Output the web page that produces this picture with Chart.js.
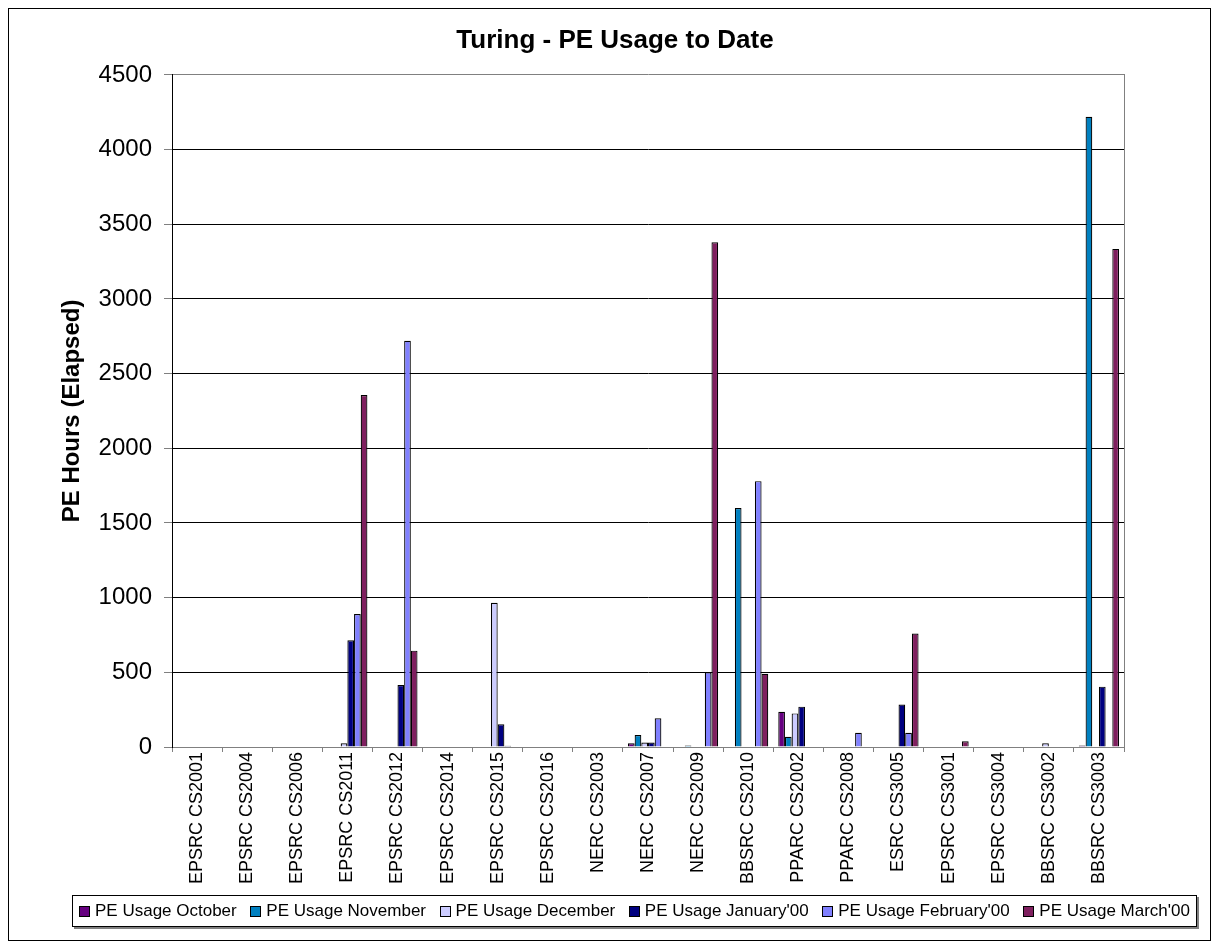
<!DOCTYPE html>
<html>
<head>
<meta charset="utf-8">
<title>Turing - PE Usage to Date</title>
<script src="https://cdn.jsdelivr.net/npm/chart.js@4.4.1/dist/chart.umd.min.js"></script>
<style>
  html, body { margin: 0; padding: 0; background: #fff; }
  #wrap { position: relative; width: 1218px; height: 947px; font-family: 'Liberation Sans', Arial, sans-serif; }
  #chart { position: absolute; left: 0; top: 0; }
  #frame { position: absolute; left: 8px; top: 8px; width: 1201px; height: 931px; border: 1px solid #000; pointer-events: none; }
  #legend { position: absolute; left: 72px; top: 895px; width: 1125px; height: 32px; box-sizing: border-box;
            border: 1px solid #000; box-shadow: 2px 2px 0 #808080; background: #fff;
            display: flex; align-items: center; justify-content: space-between; padding: 0 6px;
            font-size: 17px; color: #000; }
  .item { display: flex; align-items: center; white-space: nowrap; }
  .swatch { width: 9px; height: 9px; border: 1px solid #000; margin-right: 5px; }
</style>
</head>
<body>
<div id="wrap">
  <canvas id="chart" width="1218" height="947"></canvas>
  <div id="frame"></div>
  <div id="legend"></div>
</div>
<script>
// projects (x axis)
const categories = ['EPSRC CS2001', 'EPSRC CS2004', 'EPSRC CS2006', 'EPSRC CS2011', 'EPSRC CS2012',
  'EPSRC CS2014', 'EPSRC CS2015', 'EPSRC CS2016', 'NERC CS2003', 'NERC CS2007', 'NERC CS2009',
  'BBSRC CS2010', 'PPARC CS2002', 'PPARC CS2008', 'ESRC CS3005', 'EPSRC CS3001', 'EPSRC CS3004',
  'BBSRC CS3002', 'BBSRC CS3003']

const seriesNames = ['PE Usage October', 'PE Usage November', 'PE Usage December',
  "PE Usage January'00", "PE Usage February'00", "PE Usage March'00"]

// PE hours per project, one array per month
const octUsage = [0, 0, 0, 0, 0, 0, 0, 0, 0, 25, 0, 0, 236, 0, 0, 0, 0, 0, 10]
const novUsage = [0, 0, 0, 0, 0, 0, 0, 0, 0, 80, 10, 1600, 68, 0, 0, 0, 0, 0, 4220]
const decUsage = [0, 0, 0, 25, 0, 0, 965, 0, 0, 30, 0, 0, 225, 0, 0, 0, 0, 25, 0]
const janUsage = [0, 0, 0, 715, 415, 0, 152, 0, 0, 30, 0, 0, 270, 0, 285, 0, 0, 0, 404]
const febUsage = [0, 0, 0, 890, 2720, 0, 8, 0, 0, 192, 500, 1780, 0, 95, 95, 0, 0, 0, 0]
const marUsage = [0, 0, 0, 2357, 645, 0, 0, 0, 0, 0, 3380, 490, 0, 0, 760, 38, 0, 0, 3335]

const yTicks = [0, 500, 1000, 1500, 2000, 2500, 3000, 3500, 4000, 4500]

const seriesColors = ['#660080', '#0080C0', '#CCCCFF', '#000080', '#8080FF', '#7F1F5F']

const FONT = "'Liberation Sans', Arial, sans-serif"

const allSeries = [octUsage, novUsage, decUsage, janUsage, febUsage, marUsage]
const datasets = allSeries.map((vals, i) => ({
  label: seriesNames[i],
  data: vals,
  backgroundColor: seriesColors[i],
  borderColor: '#000',
  borderWidth: 1.2,
  borderSkipped: 'start',
  categoryPercentage: 0.8,
  barPercentage: 1.0
}))

let ctx = document.getElementById('chart').getContext('2d')
let chart = new Chart(ctx, {
  type: 'bar',
  data: { labels: categories, datasets: datasets },
  options: {
    responsive: false,
    animation: false,
    layout: { padding: { left: 20, right: 8, top: 0, bottom: 0 } },
    plugins: {
      legend: { display: false },
      tooltip: { enabled: false },
      title: {
        display: true,
        text: 'Turing - PE Usage to Date',
        color: '#000',
        font: { family: FONT, size: 26, weight: 'bold', lineHeight: 1.15 },
        padding: { top: 26, bottom: 19 }
      }
    },
    scales: {
      x: {
        grid: { display: true, drawOnChartArea: false, drawTicks: true, tickLength: 5, color: '#808080', tickColor: '#808080', offset: true },
        border: { color: '#808080', width: 1 },
        ticks: { color: '#000', font: { family: FONT, size: 18 }, minRotation: 90, maxRotation: 90, autoSkip: false, padding: 0 },
        afterFit: s => { s.height = 200 }
      },
      y: {
        min: 0, max: 4500,
        afterBuildTicks: s => { s.ticks = yTicks.map(v => ({ value: v })) },
        grid: {
          color: c => (c.tick && c.tick.value === 4500) ? '#808080' : '#000',
          tickColor: '#808080',
          tickLength: 8,
          lineWidth: 1
        },
        border: { color: '#000', width: 1 },
        ticks: { color: '#000', font: { family: FONT, size: 24 }, padding: 12, callback: v => String(v) },
        title: {
          display: true,
          text: 'PE Hours (Elapsed)',
          color: '#000',
          font: { family: FONT, size: 24, weight: 'bold' },
          padding: { top: 37.6, bottom: 0 }
        },
        afterFit: s => { s.width = 152 }
      },
      yRight: {
        position: 'right',
        display: true,
        grid: { display: false },
        ticks: { display: false },
        border: { display: true, color: '#808080', width: 1 },
        afterFit: s => { s.width = 86 }
      }
    }
  }
})

// legend below the plot, built from the series names and colours
let legendEl = document.getElementById('legend')
chart.data.datasets.forEach(ds => {
  let item = document.createElement('div')
  item.className = 'item'
  let sw = document.createElement('span')
  sw.className = 'swatch'
  sw.style.background = ds.backgroundColor
  item.appendChild(sw)
  item.appendChild(document.createTextNode(ds.label))
  legendEl.appendChild(item)
})
</script>
</body>
</html>
